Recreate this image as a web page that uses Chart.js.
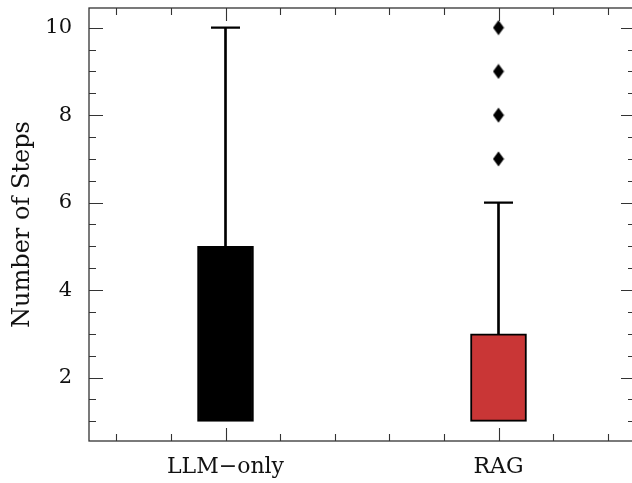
<!DOCTYPE html>
<html>
<head>
<meta charset="utf-8">
<script src="https://cdn.jsdelivr.net/npm/chart.js@4"></script>
<style>
  html, body { margin: 0; padding: 0; background: #fff; overflow: hidden; }
  canvas { display: block; }
</style>
</head>
<body>
<canvas id="chartCanvas" width="640" height="483"></canvas>
<script>
const categories = ['LLM\u2212only', 'RAG'];
const boxLow = [1, 1];
const boxHigh = [5, 3];
const whiskerTop = [10, 6];
const outliersRAG = [7, 8, 9, 10];
const yTickValues = [2, 4, 6, 8, 10];
const boxColors = ['#000000', '#c93636'];

const serif = "'DejaVu Serif', serif";

// tall diamond marker for the outliers
const diamond = document.createElement('canvas');
diamond.width = 12;
diamond.height = 16;
(function () {
    const d = diamond.getContext('2d');
    d.fillStyle = '#000';
    d.beginPath();
    d.moveTo(6, 0.5);
    d.lineTo(11.5, 8);
    d.lineTo(6, 15.5);
    d.lineTo(0.5, 8);
    d.closePath();
    d.fill();
})();

// no extra room for half labels, keep the plot box where it is
function noPad(scale) {
    scale.paddingTop = 0;
    scale.paddingBottom = 0;
    scale.paddingLeft = 0;
    scale.paddingRight = 0;
}

// frame plus inward ticks on all four sides
const framePlugin = {
    id: 'frame',
    afterDraw(chart) {
        const ctx = chart.ctx;
        const a = chart.chartArea;
        const xs = chart.scales.x;
        const ys = chart.scales.y;
        ctx.save();
        ctx.strokeStyle = '#333';
        ctx.lineWidth = 1.3;
        ctx.strokeRect(a.left, a.top, a.right - a.left, a.bottom - a.top);
        ctx.lineWidth = 1.1;
        ctx.beginPath();
        for (let v = 1; v <= 10; v += 0.5) {
            const y = Math.round(ys.getPixelForValue(v)) + 0.5;
            const len = (v % 2 === 0) ? 14 : 7;
            ctx.moveTo(a.left, y); ctx.lineTo(a.left + len, y);
            ctx.moveTo(a.right, y); ctx.lineTo(a.right - len, y);
        }
        for (let i = -2; i <= 7; i++) {
            const v = i * 0.2;
            const x = Math.round(xs.getPixelForValue(v)) + 0.5;
            const len = (i === 0 || i === 5) ? 13 : 7;
            ctx.moveTo(x, a.bottom); ctx.lineTo(x, a.bottom - len);
            ctx.moveTo(x, a.top); ctx.lineTo(x, a.top + len);
        }
        ctx.stroke();
        ctx.restore();
    }
};

const ctx = document.getElementById('chartCanvas').getContext('2d');
const chart = new Chart(ctx, {
    type: 'bar',
    data: {
        labels: categories,
        datasets: [
            {
                label: 'whiskers',
                data: categories.map((c, i) => [boxHigh[i], whiskerTop[i]]),
                backgroundColor: '#000',
                barThickness: 2,
                grouped: false,
                order: 3
            },
            {
                label: 'boxes',
                data: categories.map((c, i) => [boxLow[i], boxHigh[i]]),
                backgroundColor: boxColors,
                borderColor: '#000',
                borderWidth: 2,
                borderSkipped: false,
                barThickness: 56,
                grouped: false,
                order: 2
            },
            {
                type: 'scatter',
                label: 'caps',
                data: categories.map((c, i) => ({ x: c, y: whiskerTop[i] })),
                pointStyle: 'line',
                radius: 14.5,
                borderWidth: 2.2,
                borderColor: '#000',
                order: 1
            },
            {
                type: 'scatter',
                label: 'outliers',
                data: outliersRAG.map(v => ({ x: categories[1], y: v })),
                pointStyle: diamond,
                order: 0
            }
        ]
    },
    options: {
        responsive: false,
        animation: false,
        layout: { autoPadding: false, padding: { top: 8, right: 5, left: 0, bottom: 0 } },
        plugins: {
            legend: { display: false },
            tooltip: { enabled: false }
        },
        scales: {
            x: {
                type: 'category',
                offset: true,
                grid: { display: false, drawTicks: false },
                border: { display: false },
                ticks: {
                    color: '#111',
                    padding: 13,
                    font: { family: serif, size: 22 }
                },
                afterFit(scale) { scale.height = 42; noPad(scale); }
            },
            y: {
                type: 'linear',
                min: 0.55,
                max: 10.45,
                grid: { display: false, drawTicks: false },
                border: { display: false },
                afterBuildTicks(scale) {
                    scale.ticks = yTickValues.map(v => ({ value: v }));
                },
                ticks: {
                    color: '#111',
                    padding: 17,
                    font: { family: serif, size: 21 }
                },
                title: {
                    display: true,
                    text: 'Number of Steps',
                    color: '#111',
                    padding: { top: 8, bottom: 0 },
                    font: { family: serif, size: 24 }
                },
                afterFit(scale) { scale.width = 89; noPad(scale); }
            }
        }
    },
    plugins: [framePlugin]
});
</script>
</body>
</html>
